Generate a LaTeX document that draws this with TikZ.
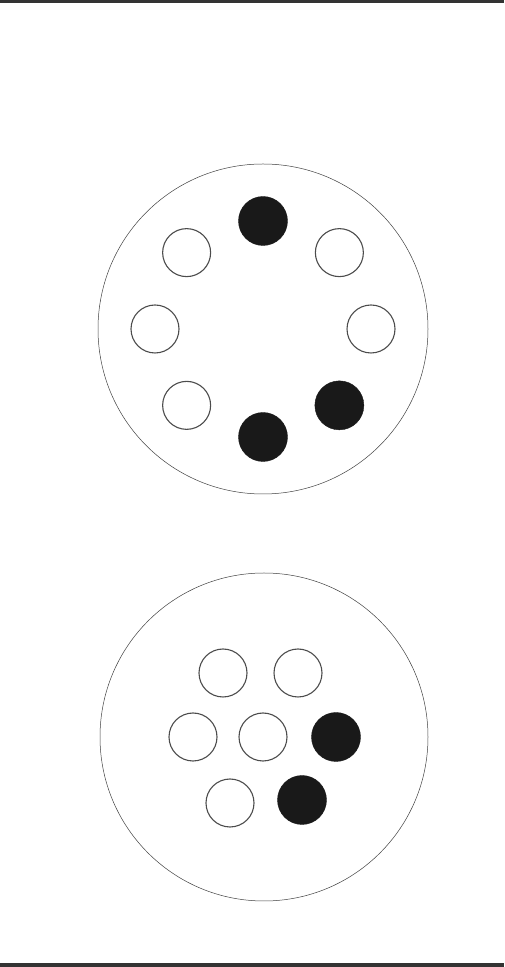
\documentclass[tikz,border=0pt]{standalone}
\usepackage{tikz}

\tikzset{
  disc/.style={draw=black!75, line width=0.5pt},
  hole/.style={circle, draw=black!70, line width=1.1pt, minimum size=48pt, inner sep=0pt, fill=white},
  full/.style={circle, fill=black!90, draw=black!90, minimum size=49pt, inner sep=0pt}
}

\begin{document}
\begin{tikzpicture}[x=1pt, y=1pt]
        \useasboundingbox (0,0) rectangle (504,967);
        % scan edges
        \fill[black!80] (0,964) rectangle (504,967);
        \fill[black!80] (0,0) rectangle (504,4);

        % upper disc: ring of eight
        \coordinate (top) at (263,638);
        \draw[disc] (top) circle (165);
        \foreach \ang/\kind [count=\i] in {90/full, 45/hole, 0/hole, -45/full, -90/full, -135/hole, 180/hole, 135/hole}
            \node[\kind] (ring\i) at ([shift={(\ang:108)}]top) {};

        % lower disc: hexagon cluster
        \coordinate (bot) at (264,230);
        \draw[disc] (bot) circle (164);
        \node[hole] (hexA) at (223,294) {};
        \node[hole] (hexB) at (298,294) {};
        \node[hole] (hexC) at (193,230) {};
        \node[hole] (hexD) at (263,230) {};
        \node[full] (hexE) at (336,230) {};
        \node[hole] (hexF) at (230,164) {};
        \node[full] (hexG) at (302,167) {};
\end{tikzpicture}
\end{document}
